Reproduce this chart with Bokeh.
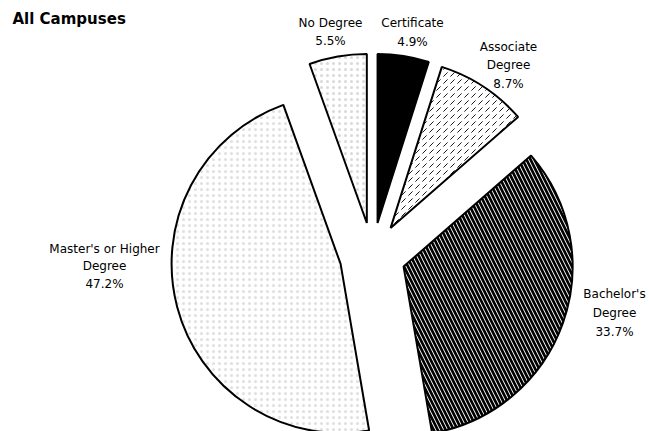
import math
from bokeh.plotting import figure
from bokeh.models import Range1d, ColumnDataSource
from bokeh.core.properties import value
from bokeh.embed import file_html
from bokeh.resources import INLINE

# ---- data ----
categories = ["Certificate", "Associate Degree", "Bachelor's Degree",
              "Master's or Higher Degree", "No Degree"]
percents = [4.9, 8.7, 33.7, 47.2, 5.5]
label_lines = [["Certificate"], ["Associate", "Degree"], ["Bachelor's", "Degree"],
               ["Master's or Higher", "Degree"], ["No Degree"]]
title = "All Campuses"

# ---- layout / style ----
W, H = 649, 431
CX, CY = 372, 431 - 255      # pie centre (y measured upward)
R = 169
EXPLODE = 33
styles = [
    dict(fill_color="black", hatch_pattern=" "),
    dict(fill_color="white", hatch_pattern=",", hatch_color="black", hatch_scale=7, hatch_weight=0.9),
    dict(fill_color="white", hatch_pattern="\\", hatch_color="black", hatch_scale=8, hatch_weight=2.7),
    dict(fill_color="white", hatch_pattern=".", hatch_color="black", hatch_scale=6, hatch_weight=1.0, hatch_alpha=0.12),
    dict(fill_color="white", hatch_pattern=".", hatch_color="black", hatch_scale=6, hatch_weight=1.0, hatch_alpha=0.15),
]
# label anchor (screen coords of first line centre) and line spacing
label_pos = [(412, 22, 19), (508, 46, 18.5), (614, 293, 19), (104, 248, 17.5), (330, 22, 18)]

p = figure(width=W, height=H, output_backend="svg", toolbar_location=None,
           x_range=Range1d(0, W), y_range=Range1d(431 - H, 431),
           min_border=0)
p.axis.visible = False
p.grid.visible = False
p.outline_line_color = None
p.background_fill_color = "white"

total = sum(percents)
cum = 0.0
for i, v in enumerate(percents):
    a0 = 90 - cum / total * 360
    cum += v
    a1 = 90 - cum / total * 360
    mid = math.radians((a0 + a1) / 2)
    x = CX + EXPLODE * math.cos(mid)
    y = CY + EXPLODE * math.sin(mid)
    st = dict(styles[i])
    p.wedge(x=[x], y=[y], radius=R, start_angle=[math.radians(a0)],
            end_angle=[math.radians(a1)], direction="clock",
            line_color="black", line_width=2, **st)

# labels
tx, ty, tt = [], [], []
for i, v in enumerate(percents):
    lx, ly, dy = label_pos[i]
    lines = label_lines[i] + [f"{v}%"]
    for k, s in enumerate(lines):
        tx.append(lx)
        ty.append(431 - (ly + k * dy))
        tt.append(s)
src = ColumnDataSource(dict(x=tx, y=ty, text=tt))
p.text(x="x", y="y", text="text", source=src, text_align="center",
       text_baseline="middle", text_font=value("DejaVu Sans"),
       text_font_size="12px", text_color="black")

p.text(x=[12], y=[431 - 18], text=[title], text_align="left",
       text_baseline="middle", text_font=value("DejaVu Sans"),
       text_font_size="15px", text_font_style="bold", text_color="black")

open("out.html", "w").write(file_html(p, INLINE))
